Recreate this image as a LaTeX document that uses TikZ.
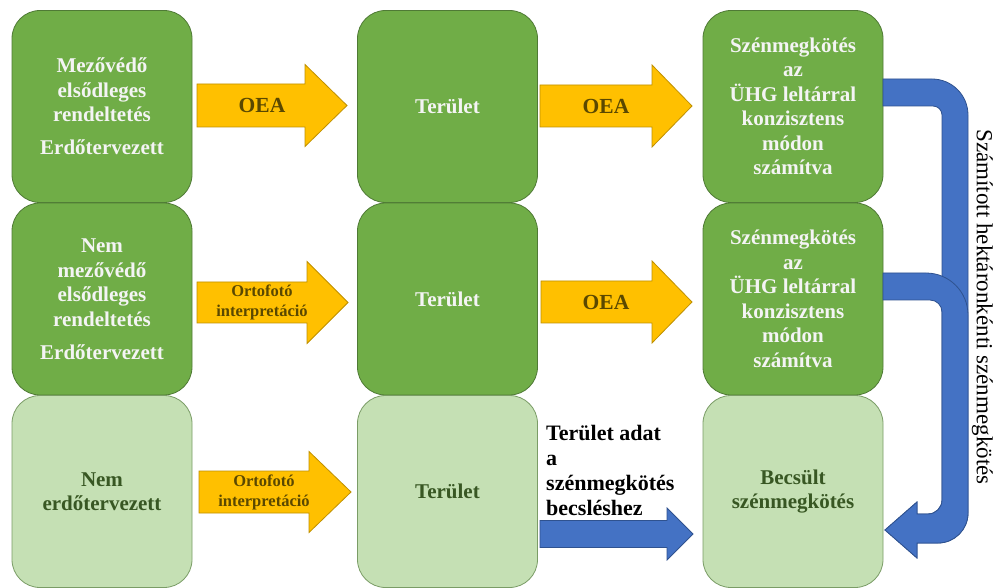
\documentclass[tikz,border=0pt]{standalone}
\usepackage{fontspec}
\setmainfont{Liberation Serif}
\definecolor{dgfill}{HTML}{70AD47}
\definecolor{dgline}{HTML}{4F7A35}
\definecolor{lgfill}{HTML}{C5E0B4}
\definecolor{lgline}{HTML}{7A9C66}
\definecolor{lgtext}{HTML}{385723}
\definecolor{wtext}{HTML}{F4F4F4}
\definecolor{yfill}{HTML}{FFC000}
\definecolor{yline}{HTML}{BF9000}
\definecolor{ytext}{HTML}{5A4800}
\definecolor{bfill}{HTML}{4472C4}
\definecolor{bline}{HTML}{2F528F}
\newcommand\blockarr[7]{% style, x start, head start, tip, y centre, shaft half, head half
  \filldraw[#1] (#2,#5-#6) -- (#3,#5-#6) -- (#3,#5-#7) -- (#4,#5) -- (#3,#5+#7) -- (#3,#5+#6) -- (#2,#5+#6) -- cycle;}
\begin{document}
\begin{tikzpicture}[x=1pt,y=-1pt,
  boxbase/.style={rounded corners=28pt, minimum width=180pt, minimum height=192pt, line width=0.8pt, align=center, inner sep=0pt,
     font=\fontsize{21}{24.5}\selectfont\bfseries},
  dbox/.style={boxbase, draw=dgline, fill=dgfill, text=wtext},
  lbox/.style={boxbase, draw=lgline, fill=lgfill, text=lgtext},
  yarrow/.style={fill=yfill, draw=yline, line width=0.8pt},
  barrow/.style={fill=bfill, draw=bline, line width=0.8pt},
  ylabel/.style={text=ytext, font=\fontsize{21.5}{24}\selectfont\bfseries, align=center, inner sep=0pt},
  ysmall/.style={text=ytext, font=\fontsize{16.5}{20}\selectfont\bfseries, align=center, inner sep=0pt}]
\useasboundingbox (0,0) rectangle (994,588);
\fill[white] (0,0) rectangle (994,588);

% boxes
\node[dbox] (a1) at (102,106.5) {Mezővédő\\elsődleges\\rendeltetés\\[8.5pt]Erdőtervezett};
\node[dbox] (a2) at (102,299) {Nem\\mezővédő\\elsődleges\\rendeltetés\\[8.5pt]Erdőtervezett};
\node[lbox] (a3) at (102,491.5) {Nem\\erdőtervezett};
\node[dbox] (b1) at (447.5,106.5) {Terület};
\node[dbox] (b2) at (447.5,299) {Terület};
\node[lbox] (b3) at (447.5,491.5) {Terület};
\node[dbox] (c1) at (793,106.5) {Szénmegkötés\\az\\ÜHG leltárral\\konzisztens\\módon\\számítva};
\node[dbox] (c2) at (793,299) {Szénmegkötés\\az\\ÜHG leltárral\\konzisztens\\módon\\számítva};
\node[lbox] (c3) at (793,491.5) {Becsült\\szénmegkötés};

% yellow block arrows
\blockarr{yarrow}{197}{305}{347}{105.5}{21.5}{41}
\blockarr{yarrow}{540}{652}{692}{106}{21}{41}
\blockarr{yarrow}{197}{307}{348}{302.5}{20.5}{41}
\blockarr{yarrow}{541}{652}{692}{302}{21}{41}
\blockarr{yarrow}{199}{309}{351}{492}{21}{40.5}
\node[ylabel] (t1) at (262,105.5) {OEA};
\node[ylabel] (t2) at (606,106) {OEA};
\node[ysmall] (t3) at (262,302.5) {Ortofotó\\interpretáció};
\node[ylabel] (t4) at (606,302) {OEA};
\node[ysmall] (t5) at (264,492) {Ortofotó\\interpretáció};

% blue straight arrow
\blockarr{barrow}{540}{667}{693}{534}{13.5}{26}
\node[anchor=north west, align=left, inner sep=0pt, font=\fontsize{22}{25}\selectfont\bfseries] (lab) at (546,425) {Terület adat\\a\\szénmegkötés\\becsléshez};

% blue U-turn arrows
\filldraw[barrow] (883,79) -- (932,79) arc(-90:0:36) -- (968,513) arc(0:90:30) -- (917,543) -- (917,558) -- (885,530) -- (917,502) -- (917,514) -- (928,514) arc(90:0:14) -- (942,115) arc(0:-90:9) -- (883,106) -- cycle;
\filldraw[barrow] (883,273) -- (926,273) arc(-90:0:42) -- (968,513) arc(0:90:30) -- (917,543) -- (917,558) -- (885,530) -- (917,502) -- (917,514) -- (928,514) arc(90:0:14) -- (942,312) arc(0:-90:12) -- (883,300) -- cycle;

\node[rotate=-90, font=\fontsize{23}{26}\selectfont, inner sep=0pt] (side) at (982.5,307) {Számított hektáronkénti szénmegkötés};
\end{tikzpicture}
\end{document}
